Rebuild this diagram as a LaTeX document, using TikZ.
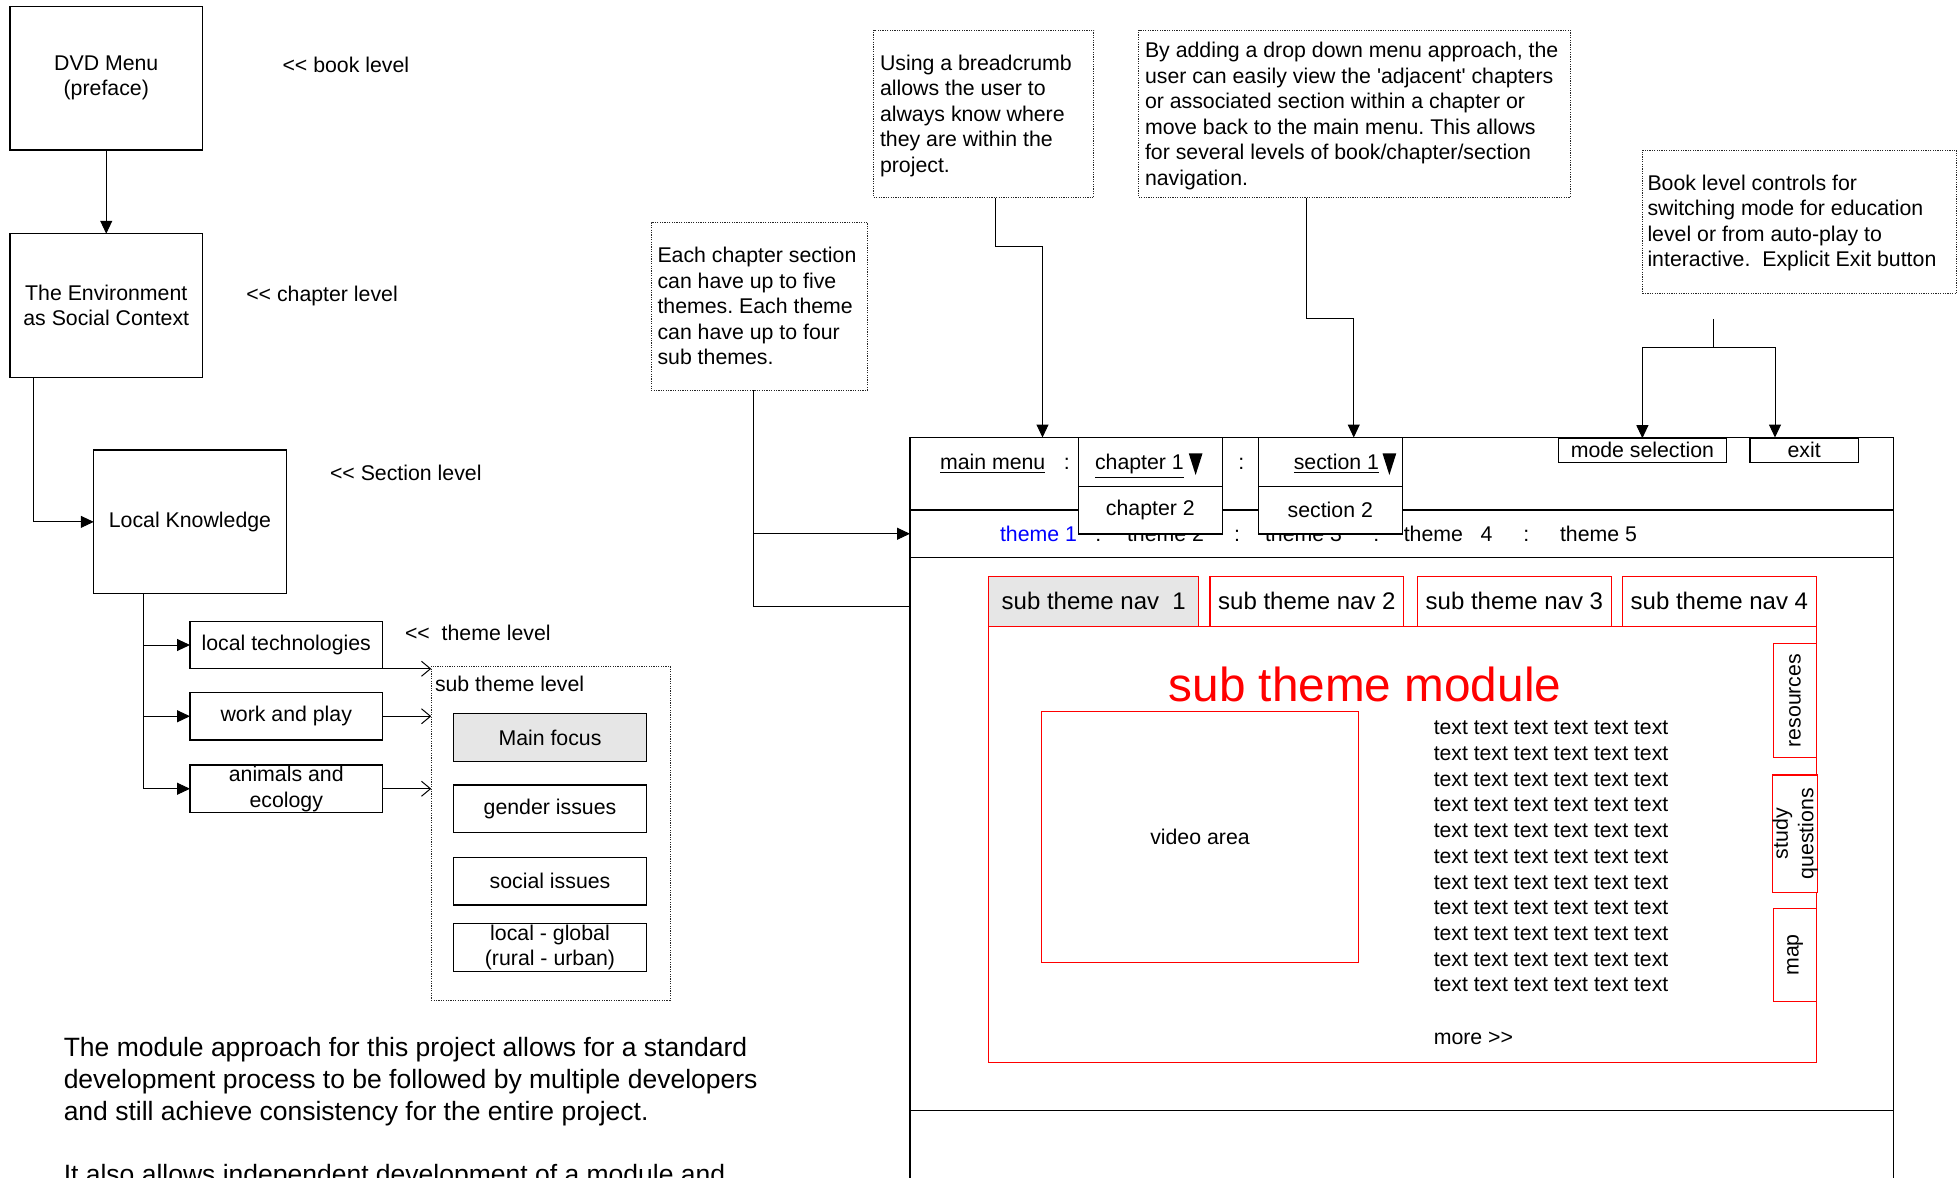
\documentclass[tikz,border=0pt]{standalone}
\usepackage{fontspec}
\setmainfont[Ligatures=TeXOff]{Liberation Sans}
\usetikzlibrary{arrows.meta,calc}
\definecolor{lgray}{RGB}{230,230,230}
\definecolor{mblue}{RGB}{0,0,255}
\definecolor{mred}{RGB}{255,0,0}
\newcommand\szbody{\fontsize{10.65pt}{12.75pt}\selectfont}
\newcommand\szpara{\fontsize{13.25pt}{15.9pt}\selectfont}
\newcommand\sztab{\fontsize{12pt}{14pt}\selectfont}
\newcommand\sztitle{\fontsize{23.85pt}{28pt}\selectfont}
\newcommand\sztext{\fontsize{10.6pt}{12.85pt}\selectfont}
\frenchspacing
\begin{document}
\begin{tikzpicture}[x=0.625pt,y=-0.625pt,
  every node/.style={font=\szbody, inner sep=0pt, outer sep=0pt},
  box/.style={draw, line width=0.6pt, fill=white, align=center},
  note/.style={draw=black!85, line width=0.5pt, dash pattern=on 0.6pt off 0.6pt},
  sz/.style 2 args={minimum width={#1*0.625pt}, minimum height={#2*0.625pt}},
  conn/.style={line width=0.5pt},
  arr/.style={conn, -{Triangle[length=6.5pt,width=6pt]}},
  oarr/.style={conn, -{Straight Barb[length=4.5pt,width=7.5pt,line width=0.5pt]}},
  tx/.style={text height=7.6pt, text depth=0pt},
  lbl/.style={tx, anchor=west},
  redbox/.style={draw=mred, line width=0.6pt}]
\useasboundingbox (0,0) rectangle (1568,942);

% ---------------- left column
\node[box, sz={154}{115}] (dvd) at (85,62.5) {DVD Menu\\(preface)};
\node[lbl] (lb1) at (226,52) {<< book level};
\node[box, sz={154}{115}] (env) at (85,244.5) {The Environment\\as Social Context};
\node[lbl] (lb2) at (197,235) {<< chapter level};
\node[box, sz={154}{115}] (lk) at (152,417.5) {Local Knowledge};
\node[lbl] (lb3) at (264,378) {<< Section level};
\draw[arr] (dvd) -- (env);
\draw[arr] ($(env.south west)+(19,0)$) |- (lk.west);

\node[box, sz={154}{38}] (lt) at (229,516) {local technologies};
\node[box, sz={154}{38}] (wp) at (229,573) {work and play};
\node[box, sz={154}{38}] (ae) at (229,631) {animals and\\ecology};
\coordinate (trunk) at ($(lk.south west)+(40,0)$);
\draw[arr] (trunk) |- (lt.west);
\draw[arr] (trunk) |- (wp.west);
\draw[arr] (trunk) |- (ae.west);
\node[lbl] (lb4) at (324,506) {<<\ \ theme level};

\node[note, sz={191}{267}] (stl) at (440.5,666.5) {};
\node[lbl] (lb5) at (348,547) {sub theme level};
\node[box, fill=lgray, sz={154}{38}] (mf) at (440,590) {Main focus};
\node[box, sz={154}{38}] (gi) at (440,647) {gender issues};
\node[box, sz={154}{38}] (si) at (440,705) {social issues};
\node[box, sz={154}{38}] (lg) at (440,758) {local - global\\(rural - urban)};
\draw[oarr] (lt.south east) -- (lt.south east -| stl.west);
\draw[oarr] (wp.east) -- (wp.east -| stl.west);
\draw[oarr] (ae.east) -- (ae.east -| stl.west);

\node[font=\szpara, align=left, anchor=north west] (para) at (51,830)
  {The module approach for this project allows for a standard\\
   development process to be followed by multiple developers\\
   and still achieve consistency for the entire project.\\[15.9pt]
   It also allows independent development of a module and};

% ---------------- notes
\node[note, sz={173}{134}] (ec) at (607.5,245) {};
\node[align=left, anchor=north west] (ect) at (526,197.8)
  {Each chapter section\\can have up to five\\themes. Each theme\\can have up to four\\sub themes.};
\node[note, sz={176}{134}] (bc) at (787,91) {};
\node[align=left, anchor=north west] (bct) at (704,43.8)
  {Using a breadcrumb\\allows the user to\\always know where\\they are within the\\project.};
\node[note, sz={345}{134}] (dd) at (1083.5,91) {};
\node[align=left, anchor=north west] (ddt) at (916,33.8)
  {By adding a drop down menu approach, the\\user can easily view the 'adjacent' chapters\\or associated section within a chapter or\\move back to the main menu. This allows\\for several levels of book/chapter/section\\navigation.};
\node[note, sz={251}{115}] (bl) at (1439.5,177.5) {};
\node[align=left, anchor=north west] (blt) at (1318,139.8)
  {Book level controls for\\switching mode for education\\level or from auto-play to\\interactive.\ \ Explicit Exit button};

% ---------------- screen
\draw[line width=0.6pt] (728,350) rectangle (1515,1010);
\draw[line width=0.6pt] (728,408) -- (1515,408);
\draw[line width=0.6pt] (728,446.3) -- (1515,446.3);
\draw[line width=0.6pt] (728,888.5) -- (1515,888.5);

\node[lbl, text=mblue] (th1) at (800,427) {theme 1};
\node[tx] (c1) at (878.7,427) {:};
\node[lbl] (th2) at (901.6,427) {theme 2};
\node[tx] (c2) at (989.6,427) {:};
\node[lbl] (th3) at (1012,427) {theme 3};
\node[tx] (c3) at (1101,427) {:};
\node[lbl] (th4) at (1123,427) {theme\ \ \ 4};
\node[tx] (c4) at (1221,427) {:};
\node[lbl] (th5) at (1248,427) {theme 5};

\node[lbl] (mm) at (752,369.7) {\underline{main menu}};
\node[tx] (c5) at (853.5,369.7) {:};
\node[box, sz={115.3}{39}] (ch1) at (920.3,369.5) {};
\node[lbl] (ch1t) at (876,369.7) {\underline{chapter 1}};
\fill (951,362.7) -- (962,362.7) -- (956.5,380) -- cycle;
\node[box, sz={115.3}{38.2}] (ch2) at (920.3,408.1) {chapter 2};
\node[tx] (c6) at (993,369.7) {:};
\node[box, sz={115}{39}] (se1) at (1064.2,369.5) {};
\node[lbl] (se1t) at (1035,369.7) {\underline{section 1}};
\fill (1106,362.7) -- (1117,362.7) -- (1111.5,380) -- cycle;
\node[box, sz={115}{38.2}] (se2) at (1064.2,408.1) {section 2};
\node[box, sz={134.3}{19.3}] (ms) at (1313.9,360.2) {mode selection};
\node[box, sz={86.5}{19.3}] (ex) at (1443.3,360.2) {exit};

% connectors from notes
\coordinate (bcend) at (834,350);
\draw[arr] ($(bc.south)+(9,0)$) |- ($(bcend)+(0,-153)$) -- (bcend);
\coordinate (ddend) at (1083,350);
\draw[arr] ($(dd.south)+(-38.5,0)$) |- ($(ddend)+(0,-95)$) -- (ddend);
\coordinate (blj) at ($(bl.south)+(-68.5,43)$);
\draw[conn] ($(bl.south)+(-68.5,20)$) -- (blj);
\draw[arr] (blj) -| (ms.north);
\coordinate (exend) at (1420,350);
\draw[arr] (blj) -| (exend);
\coordinate (scrA) at (728,427);
\coordinate (scrB) at (728,485.5);
\draw[conn] ($(ec.south)+(-4.5,0)$) |- (scrB);
\draw[arr] ($(scrA)+(-125,0)$) -- (scrA);

% ---------------- sub theme module
\node[redbox, fill=lgray, sz={168}{40}, font=\sztab] (n1) at (875,481) {sub theme nav\ \ 1};
\node[redbox, sz={155}{40}, font=\sztab] (n2) at (1045.5,481) {sub theme nav 2};
\node[redbox, sz={155}{40}, font=\sztab] (n3) at (1211.5,481) {sub theme nav 3};
\node[redbox, sz={155}{40}, font=\sztab] (n4) at (1375.5,481) {sub theme nav 4};
\node[redbox, sz={662}{349}] (mod) at (1122,675.5) {};
\node[font=\sztitle, text=mred, anchor=base] (ttl) at (1092,561) {sub theme module};
\node[redbox, sz={254}{201}] (vid) at (960,669.5) {video area};
\node[font=\sztext, align=left, anchor=north west] (txt) at (1147,576.9)
  {text text text text text text\\text text text text text text\\text text text text text text\\
   text text text text text text\\text text text text text text\\text text text text text text\\
   text text text text text text\\text text text text text text\\text text text text text text\\
   text text text text text text\\text text text text text text};
\node[lbl] (more) at (1147,829.7) {more >>};
\node[redbox, fill=white, rotate=90, sz={91}{34}] (res) at (1436,560.5) {resources};
\node[redbox, fill=white, rotate=90, sz={94}{34}, align=center] (sq) at (1436,667) {study\\questions};
\node[redbox, fill=white, rotate=90, sz={74}{34}] (map) at (1436,764) {map};
\end{tikzpicture}
\end{document}
